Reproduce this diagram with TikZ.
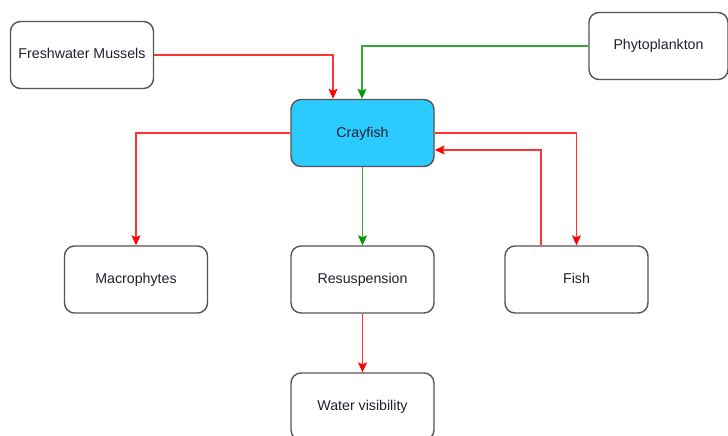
\documentclass[tikz,border=0pt]{standalone}
\usepackage{fontspec}
\setmainfont{Liberation Sans}
\usetikzlibrary{arrows.meta}
\definecolor{boxline}{HTML}{555555}
\definecolor{crayblue}{HTML}{2BCBFF}
\definecolor{redline}{HTML}{FF3333}
\definecolor{greenline}{HTML}{33AA33}
\definecolor{redtip}{HTML}{FF0000}
\definecolor{greentip}{HTML}{009900}
\definecolor{labeltext}{HTML}{202030}
\begin{document}
\begin{tikzpicture}[x=1pt,y=-1pt,
  box/.style={draw=boxline, line width=1.4pt, rounded corners=10pt, fill=white,
    minimum width=143pt, minimum height=67pt, inner sep=0pt,
    text height=10pt, text depth=2pt,
    font=\fontsize{14.2}{16}\selectfont, text=labeltext},
  redarrow/.style={draw=redline, line width=1.1pt,
    -{Stealth[length=10pt,width=9pt,inset=2pt,color=redtip]}},
  greenarrow/.style={draw=greenline, line width=1.1pt,
    -{Stealth[length=10pt,width=9pt,inset=2pt,color=greentip]}}]
\useasboundingbox (0,0) rectangle (728,436);
\begin{scope}
\clip (0,0) rectangle (728,436);
\node[box] (mussels) at (82,55) {Freshwater Mussels};
\node[box, minimum width=139pt] (phyto) at (658.5,46) {Phytoplankton};
\node[box, fill=crayblue] (cray) at (362.5,133) {Crayfish};
\node[box] (macro) at (136,279.5) {Macrophytes};
\node[box] (resus) at (362.5,279.5) {Resuspension};
\node[box] (fish) at (576.5,279.5) {Fish};
\node[box] (water) at (362.5,406.5) {Water visibility};
\end{scope}
\coordinate (mtop) at (333,0);
\coordinate (ptop) at (362,0);
\draw[redarrow] (mussels.east) -| (mtop |- cray.north);
\draw[greenarrow] (phyto.west) -| (ptop |- cray.north);
\draw[redarrow] (cray.west) -| (macro.north);
\draw[greenarrow] (cray.south) -- (resus.north);
\draw[redarrow] (cray.east) -| (fish.north);
\coordinate (fup) at (541,0);
\coordinate (fback) at (0,150);
\draw[redarrow] (fup |- fish.north) |- (fback -| cray.east);
\draw[redarrow] (resus.south) -- (water.north);
\end{tikzpicture}
\end{document}
